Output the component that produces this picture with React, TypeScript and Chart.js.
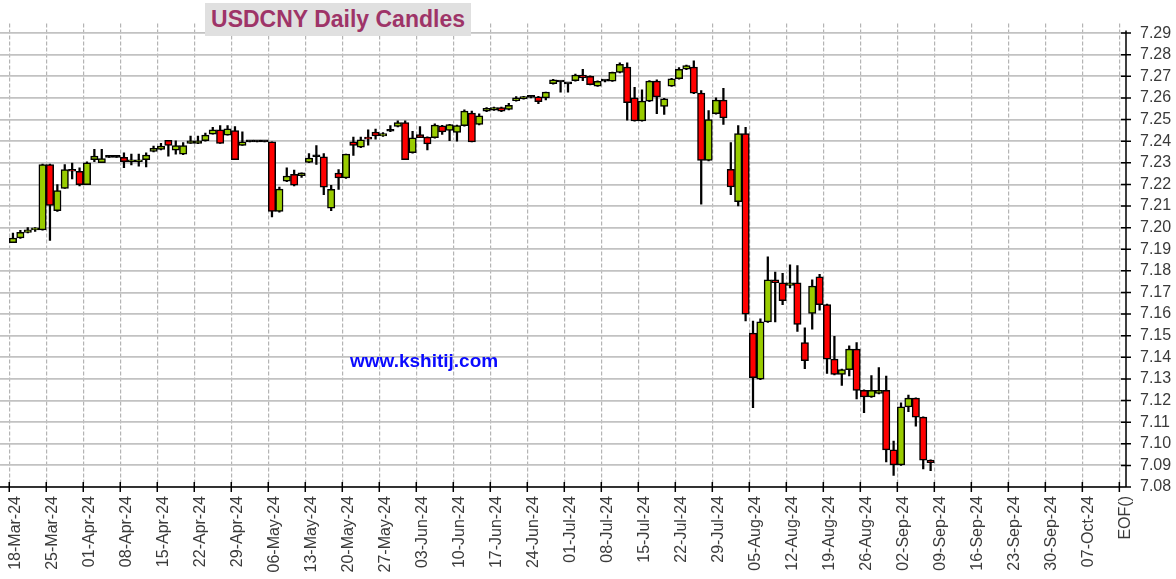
import React, { useEffect, useRef } from "react";
import { Chart, registerables } from "chart.js";

Chart.register(...registerables);

const dates = [
  "18-Mar", "19-Mar", "20-Mar", "21-Mar", "22-Mar", "25-Mar", "26-Mar", "27-Mar", "28-Mar", "29-Mar",
  "01-Apr", "02-Apr", "03-Apr", "04-Apr", "05-Apr", "08-Apr", "09-Apr", "10-Apr", "11-Apr", "12-Apr",
  "15-Apr", "16-Apr", "17-Apr", "18-Apr", "19-Apr", "22-Apr", "23-Apr", "24-Apr", "25-Apr", "26-Apr",
  "29-Apr", "30-Apr", "01-May", "02-May", "03-May", "06-May", "07-May", "08-May", "09-May", "10-May",
  "13-May", "14-May", "15-May", "16-May", "17-May", "20-May", "21-May", "22-May", "23-May", "24-May",
  "27-May", "28-May", "29-May", "30-May", "31-May", "03-Jun", "04-Jun", "05-Jun", "06-Jun", "07-Jun",
  "10-Jun", "11-Jun", "12-Jun", "13-Jun", "14-Jun", "17-Jun", "18-Jun", "19-Jun", "20-Jun", "21-Jun",
  "24-Jun", "25-Jun", "26-Jun", "27-Jun", "28-Jun", "01-Jul", "02-Jul", "03-Jul", "04-Jul", "05-Jul",
  "08-Jul", "09-Jul", "10-Jul", "11-Jul", "12-Jul", "15-Jul", "16-Jul", "17-Jul", "18-Jul", "19-Jul",
  "22-Jul", "23-Jul", "24-Jul", "25-Jul", "26-Jul", "29-Jul", "30-Jul", "31-Jul", "01-Aug", "02-Aug",
  "05-Aug", "06-Aug", "07-Aug", "08-Aug", "09-Aug", "12-Aug", "13-Aug", "14-Aug", "15-Aug", "16-Aug",
  "19-Aug", "20-Aug", "21-Aug", "22-Aug", "23-Aug", "26-Aug", "27-Aug", "28-Aug", "29-Aug", "30-Aug",
  "02-Sep", "03-Sep", "04-Sep", "05-Sep", "06-Sep",
];

const opens = [
  7.1930, 7.1952, 7.1978, 7.1990, 7.1990, 7.2292, 7.2078, 7.2181, 7.2269, 7.2261,
  7.2199, 7.2314, 7.2300, 7.2325, 7.2325, 7.2325, 7.2305, 7.2305, 7.2314, 7.2353,
  7.2362, 7.2404, 7.2358, 7.2340, 7.2390, 7.2390, 7.2402, 7.2433, 7.2453, 7.2428,
  7.2449, 7.2380, 7.2397, 7.2397, 7.2397, 7.2397, 7.2075, 7.2215, 7.2247, 7.2240,
  7.2302, 7.2328, 7.2328, 7.2090, 7.2252, 7.2230, 7.2397, 7.2372, 7.2419, 7.2442,
  7.2424, 7.2446, 7.2468, 7.2486, 7.2347, 7.2431, 7.2419, 7.2416, 7.2471, 7.2450,
  7.2441, 7.2472, 7.2530, 7.2477, 7.2539, 7.2544, 7.2556, 7.2547, 7.2587, 7.2596,
  7.2603, 7.2605, 7.2600, 7.2666, 7.2674, 7.2665, 7.2680, 7.2706, 7.2700, 7.2655,
  7.2678, 7.2678, 7.2718, 7.2743, 7.2600, 7.2494, 7.2585, 7.2678, 7.2561, 7.2655,
  7.2689, 7.2733, 7.2743, 7.2622, 7.2311, 7.2527, 7.2590, 7.2270, 7.2120, 7.2435,
  7.1512, 7.1299, 7.1564, 7.1758, 7.1745, 7.1733, 7.1745, 7.1468, 7.1603, 7.1772,
  7.1644, 7.1392, 7.1321, 7.1343, 7.1438, 7.1247, 7.1217, 7.1233, 7.1247, 7.0972,
  7.0902, 7.1171, 7.1211, 7.1123, 7.0924,
];

const highs = [
  7.1975, 7.1988, 7.2000, 7.2000, 7.2294, 7.2294, 7.2199, 7.2292, 7.2299, 7.2277,
  7.2305, 7.2362, 7.2362, 7.2325, 7.2325, 7.2346, 7.2340, 7.2340, 7.2346, 7.2377,
  7.2390, 7.2404, 7.2402, 7.2393, 7.2424, 7.2424, 7.2438, 7.2464, 7.2472, 7.2472,
  7.2468, 7.2443, 7.2397, 7.2397, 7.2397, 7.2397, 7.2188, 7.2277, 7.2266, 7.2254,
  7.2343, 7.2380, 7.2343, 7.2196, 7.2269, 7.2340, 7.2419, 7.2419, 7.2452, 7.2456,
  7.2440, 7.2472, 7.2494, 7.2494, 7.2446, 7.2468, 7.2420, 7.2480, 7.2473, 7.2478,
  7.2475, 7.2545, 7.2539, 7.2527, 7.2556, 7.2558, 7.2558, 7.2575, 7.2606, 7.2608,
  7.2606, 7.2607, 7.2627, 7.2686, 7.2676, 7.2667, 7.2710, 7.2733, 7.2702, 7.2679,
  7.2682, 7.2720, 7.2762, 7.2762, 7.2649, 7.2637, 7.2680, 7.2684, 7.2598, 7.2691,
  7.2740, 7.2752, 7.2772, 7.2634, 7.2541, 7.2600, 7.2644, 7.2394, 7.2472, 7.2464,
  7.1568, 7.1578, 7.1865, 7.1794, 7.1789, 7.1828, 7.1824, 7.1537, 7.1758, 7.1784,
  7.1646, 7.1497, 7.1345, 7.1453, 7.1468, 7.1249, 7.1316, 7.1352, 7.1313, 7.1012,
  7.1189, 7.1225, 7.1213, 7.1125, 7.0926,
];

const lows = [
  7.1930, 7.1950, 7.1976, 7.1983, 7.1988, 7.1941, 7.2075, 7.2181, 7.2225, 7.2193,
  7.2199, 7.2305, 7.2300, 7.2325, 7.2325, 7.2277, 7.2290, 7.2284, 7.2281, 7.2350,
  7.2360, 7.2331, 7.2340, 7.2338, 7.2390, 7.2388, 7.2400, 7.2433, 7.2390, 7.2428,
  7.2314, 7.2380, 7.2397, 7.2397, 7.2397, 7.2049, 7.2072, 7.2213, 7.2193, 7.2232,
  7.2300, 7.2292, 7.2152, 7.2078, 7.2177, 7.2228, 7.2334, 7.2370, 7.2382, 7.2409,
  7.2422, 7.2444, 7.2466, 7.2314, 7.2345, 7.2416, 7.2360, 7.2414, 7.2431, 7.2402,
  7.2400, 7.2470, 7.2397, 7.2475, 7.2537, 7.2542, 7.2537, 7.2545, 7.2585, 7.2594,
  7.2600, 7.2574, 7.2591, 7.2664, 7.2627, 7.2627, 7.2678, 7.2680, 7.2660, 7.2653,
  7.2674, 7.2676, 7.2716, 7.2497, 7.2492, 7.2492, 7.2583, 7.2527, 7.2524, 7.2653,
  7.2687, 7.2731, 7.2620, 7.2108, 7.2309, 7.2525, 7.2478, 7.2152, 7.2100, 7.1568,
  7.1167, 7.1297, 7.1562, 7.1564, 7.1644, 7.1721, 7.1520, 7.1348, 7.1530, 7.1618,
  7.1325, 7.1318, 7.1270, 7.1314, 7.1207, 7.1144, 7.1215, 7.1231, 7.0916, 7.0854,
  7.0900, 7.1149, 7.1081, 7.0884, 7.0875,
];

const closes = [
  7.1952, 7.1978, 7.1990, 7.1993, 7.2292, 7.2103, 7.2171, 7.2269, 7.2261, 7.2199,
  7.2300, 7.2331, 7.2319, 7.2325, 7.2325, 7.2305, 7.2314, 7.2314, 7.2336, 7.2367,
  7.2377, 7.2380, 7.2380, 7.2380, 7.2402, 7.2402, 7.2428, 7.2453, 7.2390, 7.2457,
  7.2314, 7.2397, 7.2397, 7.2397, 7.2397, 7.2075, 7.2178, 7.2239, 7.2196, 7.2254,
  7.2322, 7.2328, 7.2187, 7.2177, 7.2230, 7.2340, 7.2380, 7.2406, 7.2409, 7.2424,
  7.2435, 7.2446, 7.2486, 7.2314, 7.2416, 7.2416, 7.2387, 7.2475, 7.2443, 7.2477,
  7.2472, 7.2539, 7.2397, 7.2517, 7.2552, 7.2556, 7.2539, 7.2566, 7.2600, 7.2606,
  7.2603, 7.2583, 7.2627, 7.2684, 7.2674, 7.2665, 7.2706, 7.2693, 7.2662, 7.2677,
  7.2678, 7.2718, 7.2755, 7.2578, 7.2494, 7.2585, 7.2678, 7.2605, 7.2596, 7.2689,
  7.2733, 7.2750, 7.2622, 7.2311, 7.2500, 7.2590, 7.2508, 7.2188, 7.2435, 7.1600,
  7.1306, 7.1564, 7.1758, 7.1745, 7.1662, 7.1745, 7.1552, 7.1384, 7.1730, 7.1644,
  7.1392, 7.1321, 7.1343, 7.1438, 7.1247, 7.1217, 7.1247, 7.1247, 7.0972, 7.0902,
  7.1171, 7.1211, 7.1123, 7.0924, 7.0912,
];

const weekLabels = [
  "18-Mar-24", "25-Mar-24", "01-Apr-24", "08-Apr-24", "15-Apr-24", "22-Apr-24", "29-Apr-24",
  "06-May-24", "13-May-24", "20-May-24", "27-May-24", "03-Jun-24", "10-Jun-24", "17-Jun-24",
  "24-Jun-24", "01-Jul-24", "08-Jul-24", "15-Jul-24", "22-Jul-24", "29-Jul-24", "05-Aug-24",
  "12-Aug-24", "19-Aug-24", "26-Aug-24", "02-Sep-24", "09-Sep-24", "16-Sep-24", "23-Sep-24",
  "30-Sep-24", "07-Oct-24", "EOF()",
];

const yTicks = [
  7.08, 7.09, 7.1, 7.11, 7.12, 7.13, 7.14, 7.15, 7.16, 7.17, 7.18,
  7.19, 7.2, 7.21, 7.22, 7.23, 7.24, 7.25, 7.26, 7.27, 7.28, 7.29,
];

const TITLE = "USDCNY Daily Candles";
const SITE = "www.kshitij.com";

const DAYS_PER_WEEK = 5;
const FONT = "'Liberation Sans', Arial, Helvetica, sans-serif";

const axisPlugin = {
  id: "axisLines",
  afterDatasetsDraw(chart: any) {
    const { ctx, chartArea: a, scales } = chart;
    ctx.save();
    ctx.strokeStyle = "#000";
    ctx.lineWidth = 1.5;
    ctx.beginPath();
    ctx.moveTo(a.left, a.bottom);
    ctx.lineTo(a.right, a.bottom);
    ctx.moveTo(a.right, a.top + 7);
    ctx.lineTo(a.right, a.bottom);
    scales.x.ticks.forEach((t: any) => {
      const px = scales.x.getPixelForValue(t.value);
      ctx.moveTo(px, a.bottom - 5);
      ctx.lineTo(px, a.bottom + 5);
    });
    scales.y.ticks.forEach((t: any) => {
      const py = scales.y.getPixelForValue(t.value);
      ctx.moveTo(a.right - 5, py);
      ctx.lineTo(a.right + 5, py);
    });
    ctx.stroke();
    ctx.restore();
  },
};

function CandleChart() {
  const ref = useRef<HTMLCanvasElement | null>(null);

  useEffect(() => {
    if (!ref.current) return;
    const xs = dates.map((_, i) => i + 0.5);
    const wickData = xs.map((x, i) => ({ x, y: [lows[i], highs[i]] }));
    const bodyData = xs.map((x, i) => ({ x, y: [opens[i], closes[i]] }));
    const bodyColors = opens.map((o, i) =>
      closes[i] > o ? "#99cc00" : closes[i] < o ? "#ff0000" : "#000000"
    );

    const chart = new Chart(ref.current, {
      type: "bar",
      data: {
        datasets: [
          {
            label: "wick",
            data: wickData as any,
            backgroundColor: "#000000",
            borderWidth: 0,
            barThickness: 1.6,
            grouped: false,
            order: 2,
            minBarLength: 1,
          },
          {
            label: "body",
            data: bodyData as any,
            backgroundColor: bodyColors,
            borderColor: "#000000",
            borderWidth: 1.5,
            borderSkipped: false,
            barThickness: 7.4,
            grouped: false,
            order: 1,
            minBarLength: 2,
          },
        ],
      },
      options: {
        animation: false,
        responsive: true,
        maintainAspectRatio: false,
        layout: { padding: 0 },
        plugins: {
          legend: { display: false },
          tooltip: { enabled: false },
          title: { display: false },
        },
        scales: {
          x: {
            type: "linear",
            position: "bottom",
            min: -1.25,
            max: 150.9,
            offset: false,
            afterBuildTicks: (scale: any) => {
              scale.ticks = weekLabels.map((_, k) => ({ value: k * DAYS_PER_WEEK }));
            },
            afterFit: (scale: any) => {
              scale.height = 92;
            },
            ticks: {
              autoSkip: false,
              maxRotation: 90,
              minRotation: 90,
              padding: 9,
              labelOffset: 6,
              color: "#3a3a3a",
              font: { family: FONT, size: 16 },
              callback: (v: any) => weekLabels[Math.round(Number(v) / DAYS_PER_WEEK)] ?? "",
            },
            grid: {
              offset: false,
              color: "#b4b4b4",
              lineWidth: 1.2,
              drawTicks: false,
            },
            border: { display: false, dash: [4, 2] },
          },
          y: {
            type: "linear",
            position: "right",
            min: 7.08,
            max: 7.2944,
            beginAtZero: false,
            afterBuildTicks: (scale: any) => {
              scale.ticks = yTicks.map((v) => ({ value: v }));
            },
            afterFit: (scale: any) => {
              scale.width = 50;
            },
            ticks: {
              autoSkip: false,
              padding: 14,
              color: "#3a3a3a",
              font: { family: FONT, size: 16 },
              callback: (v: any) => Number(v).toFixed(2),
            },
            grid: {
              color: "#c2c2c2",
              lineWidth: 1.8,
              drawTicks: false,
            },
            border: { display: false },
          },
        },
      },
      plugins: [axisPlugin],
    });

    return () => chart.destroy();
  }, []);

  return <canvas ref={ref} />;
}

export default function App() {
  return (
    <div
      style={{
        position: "fixed",
        left: 0,
        top: 0,
        width: 1176,
        height: 579,
        background: "#ffffff",
        overflow: "hidden",
      }}
    >
      <div style={{ position: "absolute", left: 0, top: 0, width: 1176, height: 579 }}>
        <CandleChart />
      </div>
      <div
        style={{
          position: "absolute",
          left: 205,
          top: 3,
          width: 266,
          height: 33,
          background: "#e0e0e0",
          color: "#9e3468",
          fontFamily: FONT,
          fontWeight: "bold",
          fontSize: 23,
          lineHeight: "33px",
          textAlign: "center",
          whiteSpace: "nowrap",
        }}
      >
        {TITLE}
      </div>
      <div
        style={{
          position: "absolute",
          left: 350,
          top: 349,
          color: "#0a0aff",
          fontFamily: FONT,
          fontWeight: "bold",
          fontSize: 19,
          lineHeight: "24px",
          whiteSpace: "nowrap",
        }}
      >
        {SITE}
      </div>
    </div>
  );
}
